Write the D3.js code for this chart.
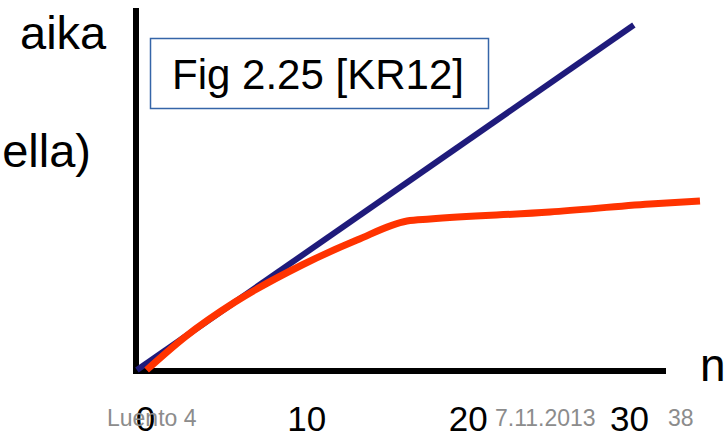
<!DOCTYPE html>
<html>
<head>
<meta charset="utf-8">
<script src="https://cdn.jsdelivr.net/npm/d3@7/dist/d3.min.js"></script>
<style>
  html, body { margin: 0; padding: 0; background: #fff; }
  svg { display: block; }
  text { font-family: "Liberation Sans", Arial, sans-serif; }
</style>
</head>
<body>
<svg id="chart" width="728" height="436"></svg>
<script>
// ---- data ----
const xTicks = [0, 10, 20, 30];
const linearN = [-0.5, 30.3];
const linearT = [0, 30];
const curveN = [0.1, 2.48, 5.58, 9.73, 13.14, 16.24, 17.67, 25.1, 31.3, 34.4];
const curveT = [0, 2.87, 5.91, 9.13, 11.3, 12.96, 13.13, 13.74, 14.43, 14.7];
const yLabel = "aika";
const yLabel2 = "ella)";
const xLabel = "n";
const figLabel = "Fig 2.25 [KR12]";
const footerLeft = "Luento 4";
const footerDate = "7.11.2013";
const footerPage = "38";

const svg = d3.select("#chart");

const x = d3.scaleLinear().domain([0, 30]).range([145, 629]);
const y = d3.scaleLinear().domain([0, 30]).range([370, 25]);

// axis lines
svg.append("line")
  .attr("x1", 136).attr("x2", 136).attr("y1", 8).attr("y2", 374)
  .attr("stroke", "#000").attr("stroke-width", 6);
svg.append("line")
  .attr("x1", 133).attr("x2", 666).attr("y1", 371).attr("y2", 371)
  .attr("stroke", "#000").attr("stroke-width", 6);

// tick labels
const ax = svg.append("g")
  .attr("transform", "translate(0,431)")
  .call(d3.axisBottom(x).tickValues(xTicks).tickSize(0).tickFormat(d3.format("d")));
ax.select(".domain").remove();
ax.selectAll("text")
  .attr("y", 0).attr("dy", 0)
  .attr("fill", "#000")
  .style("font-size", "35px")
  .style("font-family", "'Liberation Sans', Arial, sans-serif");

// footer (grey) texts
const grey = "#8c8c8c";
svg.append("text").attr("x", 107).attr("y", 426).attr("fill", grey)
  .style("font-size", "23px").text(footerLeft);
svg.append("text").attr("x", 495).attr("y", 426).attr("fill", grey)
  .style("font-size", "23px").text(footerDate);
svg.append("text").attr("x", 668).attr("y", 426).attr("fill", grey)
  .style("font-size", "23px").text(footerPage);

// lines
const line = d3.line().x(d => x(d[0])).y(d => y(d[1]));
svg.append("path")
  .datum(linearN.map((n, i) => [n, linearT[i]]))
  .attr("d", line)
  .attr("fill", "none").attr("stroke", "#1f1b7b").attr("stroke-width", 6);
svg.append("path")
  .datum(curveN.map((n, i) => [n, curveT[i]]))
  .attr("d", line.curve(d3.curveMonotoneX))
  .attr("fill", "none").attr("stroke", "#ff3300").attr("stroke-width", 7)
  .attr("stroke-linejoin", "round");

// labels
svg.append("text").attr("x", 20).attr("y", 49).style("font-size", "47px").text(yLabel);
svg.append("text").attr("x", 91).attr("y", 167).attr("text-anchor", "end")
  .style("font-size", "47px").text(yLabel2);
svg.append("text").attr("x", 700).attr("y", 381).style("font-size", "46px").text(xLabel);

// figure box
svg.append("rect").attr("x", 150.5).attr("y", 38.5).attr("width", 338).attr("height", 70)
  .attr("fill", "#fff").attr("stroke", "#3565a8").attr("stroke-width", 1.5);
svg.append("text").attr("x", 318).attr("y", 89).attr("text-anchor", "middle")
  .style("font-size", "42px").text(figLabel);
</script>
</body>
</html>
